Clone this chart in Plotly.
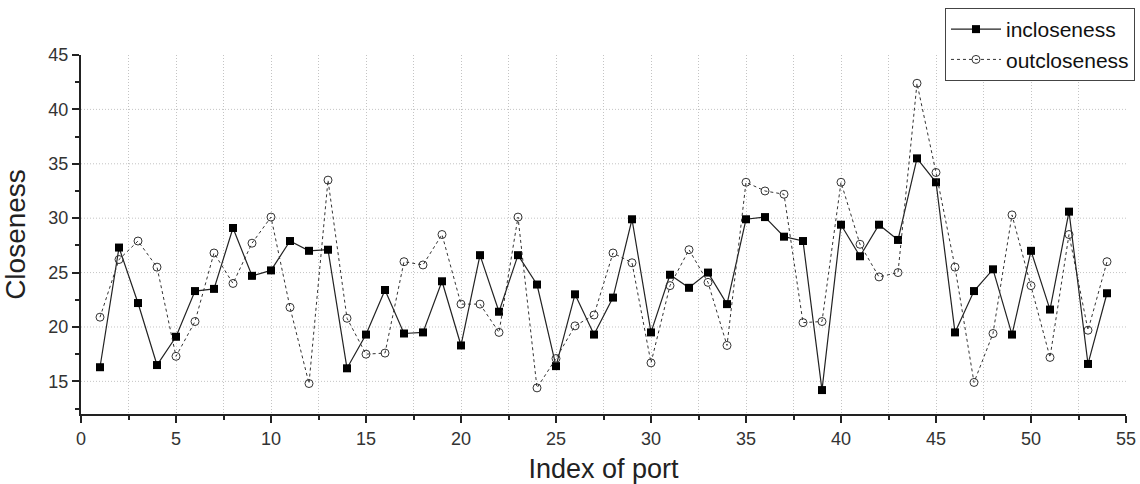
import plotly.graph_objects as go

ports = list(range(1, 55))
incloseness = [16.3, 27.3, 22.2, 16.5, 19.1, 23.3, 23.5, 29.1, 24.7, 25.2,
               27.9, 27.0, 27.1, 16.2, 19.3, 23.4, 19.4, 19.5, 24.2, 18.3,
               26.6, 21.4, 26.6, 23.9, 16.4, 23.0, 19.3, 22.7, 29.9, 19.5,
               24.8, 23.6, 25.0, 22.1, 29.9, 30.1, 28.3, 27.9, 14.2, 29.4,
               26.5, 29.4, 28.0, 35.5, 33.3, 19.5, 23.3, 25.3, 19.3, 27.0,
               21.6, 30.6, 16.6, 23.1]
outcloseness = [20.9, 26.2, 27.9, 25.5, 17.3, 20.5, 26.8, 24.0, 27.7, 30.1,
                21.8, 14.8, 33.5, 20.8, 17.5, 17.6, 26.0, 25.7, 28.5, 22.1,
                22.1, 19.5, 30.1, 14.4, 17.1, 20.1, 21.1, 26.8, 25.9, 16.7,
                23.8, 27.1, 24.1, 18.3, 33.3, 32.5, 32.2, 20.4, 20.5, 33.3,
                27.6, 24.6, 25.0, 42.4, 34.2, 25.5, 14.9, 19.4, 30.3, 23.8,
                17.2, 28.5, 19.7, 26.0]

FONT = "Liberation Sans, Arial, sans-serif"
GRID = "#c4c4c4"

fig = go.Figure()
fig.add_trace(go.Scatter(
    x=ports, y=incloseness, name="incloseness", mode="lines+markers",
    line=dict(color="#222222", width=1.2),
    marker=dict(symbol="square", size=8, color="black", line=dict(width=0)),
))
fig.add_trace(go.Scatter(
    x=ports, y=outcloseness, name="outcloseness", mode="lines+markers",
    line=dict(color="#333333", width=1, dash="3px,3px"),
    marker=dict(symbol="circle-open", size=8, color="#333333", line=dict(width=1)),
))

fig.update_layout(
    width=1140, height=484,
    margin=dict(l=81, r=14, t=55, b=70, autoexpand=False),
    paper_bgcolor="white", plot_bgcolor="white",
    font=dict(family=FONT, color="#222222", size=18),
    showlegend=True,
    legend=dict(
        x=1.0086, xanchor="right", y=1.131, yanchor="top",
        bordercolor="#444444", borderwidth=1, bgcolor="white",
        font=dict(family=FONT, size=21, color="#111111"),
        tracegroupgap=0, itemwidth=50,
    ),
)

fig.update_xaxes(
    range=[0, 55], dtick=5, tick0=0,
    showline=True, linecolor="#222222", linewidth=2,
    ticks="outside", ticklen=7, tickwidth=1.5, tickcolor="#222222",
    showgrid=False, zeroline=False,
    minor=dict(tickvals=[2.5 * i for i in range(1, 22)], ticks="outside", ticklen=4,
               tickcolor="#222222", showgrid=True, gridcolor=GRID,
               griddash="1px,2px", gridwidth=1),
    title=dict(text="Index of port", font=dict(size=27, family=FONT), standoff=12),
    tickfont=dict(size=18, color="#333333"),
)
fig.update_yaxes(
    range=[12, 45], dtick=5, tick0=0,
    showline=True, linecolor="#222222", linewidth=2,
    ticks="outside", ticklen=7, tickwidth=1.5, tickcolor="#222222",
    showgrid=False, zeroline=False,
    minor=dict(dtick=2.5, ticks="outside", ticklen=4, tickcolor="#222222", showgrid=False),
    title=dict(text="Closeness", font=dict(size=28, family=FONT), standoff=17),
    tickfont=dict(size=18, color="#333333"),
)

# horizontal dotted gridlines at the major y ticks below the top edge
for yv in [15, 20, 25, 30, 35, 40]:
    fig.add_hline(y=yv, line=dict(color=GRID, width=1, dash="1px,2px"), layer="below")

fig.write_html("out.html", config={"displayModeBar": False},
               post_script="document.body.style.margin='0';")
